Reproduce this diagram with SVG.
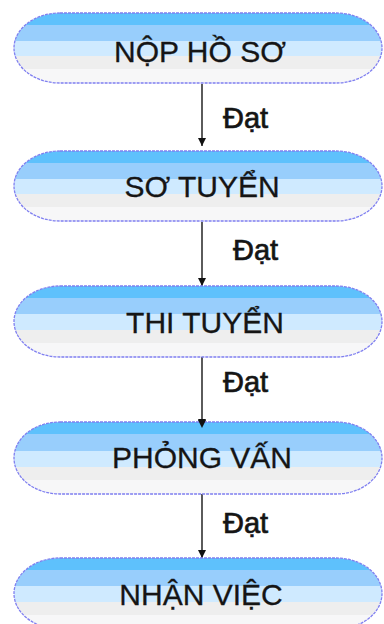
<svg xmlns="http://www.w3.org/2000/svg" width="384" height="624" viewBox="0 0 384 624">
  <defs>
    <!-- banded fill: bright blue on top fading to grey at the bottom -->
    <linearGradient id="bands" x1="0" y1="0" x2="0" y2="1">
      <stop offset="0" stop-color="#5ec1fc"/>
      <stop offset="0.17" stop-color="#5ec1fc"/>
      <stop offset="0.17" stop-color="#98cefc"/>
      <stop offset="0.40" stop-color="#98cefc"/>
      <stop offset="0.40" stop-color="#cfeaff"/>
      <stop offset="0.62" stop-color="#cfeaff"/>
      <stop offset="0.62" stop-color="#eeeeee"/>
      <stop offset="0.80" stop-color="#eeeeee"/>
      <stop offset="0.80" stop-color="#f7f7f8"/>
      <stop offset="1" stop-color="#f7f7f8"/>
    </linearGradient>
    <marker id="head" viewBox="0 0 8 8" refX="8" refY="4" markerWidth="8" markerHeight="8" markerUnits="userSpaceOnUse" orient="auto">
      <path d="M0,0 L8,4 L0,8 Z" fill="#111"/>
    </marker>
  </defs>
  <style>
    .box { fill: url(#bands); stroke: #7f7ff0; stroke-width: 1.3; stroke-dasharray: 3 1; }
    .label { font-family: "Liberation Sans", Arial, sans-serif; font-size: 30px; fill: #151515; stroke: #151515; stroke-width: 0.3; text-anchor: middle; }
    .edge { stroke: #333; stroke-width: 1.6; fill: none; marker-end: url(#head); }
    .pass { font-family: "Liberation Sans", Arial, sans-serif; font-size: 29px; fill: #151515; stroke: #151515; stroke-width: 0.7; }
  </style>
  <rect width="384" height="624" fill="#ffffff"/>

  <g id="connectors">
    <line class="edge" x1="202" y1="84" x2="202" y2="146"/>
    <text class="pass" x="223" y="128">Đạt</text>
    <line class="edge" x1="202" y1="222" x2="202" y2="286"/>
    <text class="pass" x="233" y="260">Đạt</text>
    <line class="edge" x1="202" y1="357" x2="202" y2="427"/>
    <text class="pass" x="223" y="392">Đạt</text>
    <line class="edge" x1="202" y1="494" x2="202" y2="558"/>
    <text class="pass" x="223" y="533">Đạt</text>
  </g>

  <g id="nop-ho-so">
    <rect class="box" x="14" y="13" width="368" height="70" rx="46" ry="35"/>
    <text class="label" x="200" y="62">NỘP HỒ SƠ</text>
  </g>
  <g id="so-tuyen">
    <rect class="box" x="14" y="151" width="368" height="70" rx="46" ry="35"/>
    <text class="label" x="202" y="197">SƠ TUYỂN</text>
  </g>
  <g id="thi-tuyen">
    <rect class="box" x="14" y="286" width="368" height="71" rx="46" ry="35.5"/>
    <text class="label" x="205" y="333">THI TUYỂN</text>
  </g>
  <g id="phong-van">
    <rect class="box" x="14" y="422" width="368" height="72" rx="46" ry="36"/>
    <text class="label" x="202" y="468">PHỎNG VẤN</text>
  </g>
  <g id="nhan-viec">
    <rect class="box" x="14" y="558" width="368" height="71" rx="46" ry="35.5"/>
    <text class="label" x="201" y="605">NHẬN VIỆC</text>
  </g>

  <!-- the third arrow's head overlaps the top edge of its target box -->
  <g id="tips">
    <path d="M198,420 L206,420 L202,428 Z" fill="#111"/>
  </g>
</svg>
